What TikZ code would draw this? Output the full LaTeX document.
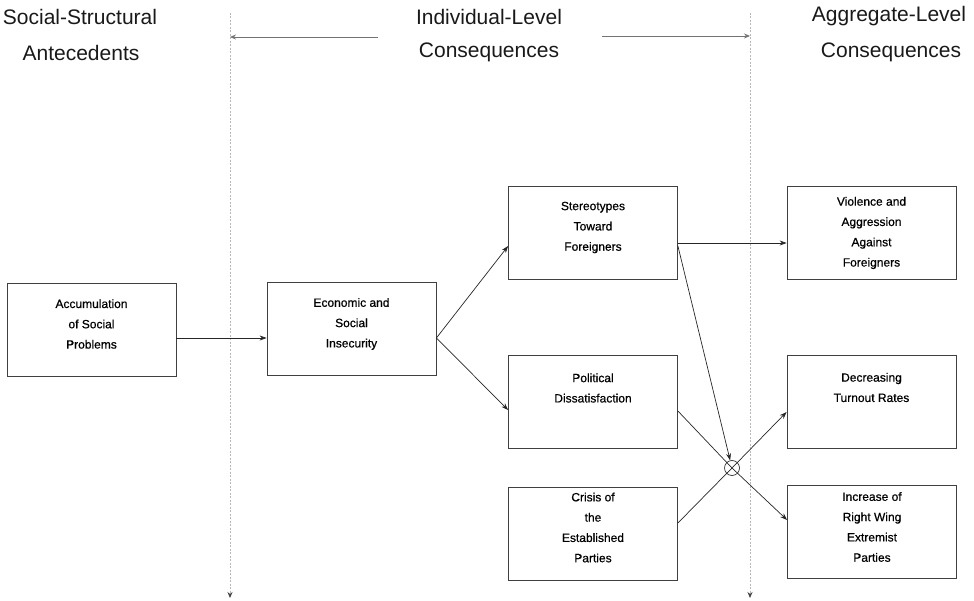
\documentclass[tikz,border=0pt]{standalone}
\usepackage{fontspec}
\setmainfont{Liberation Sans}
\newfontfamily\boxfont[FakeBold=0.6]{Liberation Sans}
\usetikzlibrary{arrows.meta,calc}
\begin{document}
\begin{tikzpicture}[x=1pt,y=-1pt,
  box/.style={draw=black!75, line width=0.8pt, minimum width=169pt, minimum height=93pt, inner sep=0pt},
  btxt/.style={align=center, font=\boxfont\fontsize{12}{20.3}\selectfont, text=black, inner sep=0pt},
  head/.style={font=\fontsize{21}{25}\selectfont, text=black!90, inner sep=0pt},
  arr/.style={draw=black!85, line width=0.7pt, -{Stealth[length=7pt,width=5pt]}},
  guide/.style={draw=black!28, line width=0.7pt, dash pattern=on 2pt off 1.5pt, -{Stealth[length=6pt,width=5pt,color=black!75]}},
  harr/.style={draw=black!55, line width=0.8pt, -{Stealth[length=6pt,width=5pt]}},
  xcirc/.style={circle, draw=black!80, line width=0.7pt, minimum size=15pt, inner sep=0pt}
]
\useasboundingbox (0,0) rectangle (974,601);

% headers
\node[head] (h1a) at (80,17) {Social-Structural};
\node[head] (h1b) at (81,53) {Antecedents};
\node[head] (h2a) at (489,17) {Individual-Level};
\node[head] (h2b) at (489,52) {Consequences};
\node[head] (h3a) at (889,16) {Aggregate-Level};
\node[head] (h3b) at (891,52) {Consequences};

% guide lines
\coordinate (g1t) at (230,13);
\coordinate (g1b) at (230,598);
\coordinate (g2t) at (750,13);
\coordinate (g2b) at (750,598);
\draw[guide] (g1t) -- (g1b);
\draw[guide] (g2t) -- (g2b);

% header arrows
\coordinate (la) at (378,37);
\coordinate (ra) at (602,36);
\draw[harr] (la) -- (g1t |- la);
\draw[harr] (ra) -- (g2t |- ra);

% boxes
\node[box] (acc) at (91.5,330) {};
\node[box] (econ) at (351.5,328.5) {};
\node[box] (ster) at (593,233) {};
\node[box] (pol) at (593,402) {};
\node[box] (cris) at (593,533.5) {};
\node[box] (viol) at (871.5,232.5) {};
\node[box] (decr) at (871.5,402) {};
\node[box] (incr) at (872,532) {};

% box texts
\node[btxt] (accT) at (91.5,324) {Accumulation\\of Social\\Problems};
\node[btxt] (econT) at (351.5,324) {Economic and\\Social\\Insecurity};
\node[btxt] (sterT) at (593,227.5) {Stereotypes\\Toward\\Foreigners};
\node[btxt] (polT) at (593,388) {Political\\Dissatisfaction};
\node[btxt] (crisT) at (593,527.5) {Crisis of\\the\\Established\\Parties};
\node[btxt] (violT) at (871.5,233) {Violence and\\Aggression\\Against\\Foreigners};
\node[btxt] (decrT) at (871.5,387.5) {Decreasing\\Turnout Rates};
\node[btxt] (incrT) at (872,527) {Increase of\\Right Wing\\Extremist\\Parties};

% crossing circle
\node[xcirc] (cx) at (732,468) {};

% connectors
\coordinate (fork) at ([yshift=-9.5pt]econ.east);
\draw[arr] ([yshift=-8pt]acc.east) -- (econ.west |- fork);
\draw[arr] (fork) -- ([yshift=-13pt]ster.west);
\draw[arr] (fork) -- ([yshift=-8pt]pol.west);
\draw[arr] ([yshift=-10pt]ster.east) -- ([yshift=-10.5pt]viol.west);
\draw[arr] ([yshift=-13pt]ster.east) -- (cx);
\draw[arr] ([yshift=-9pt]pol.east) -- (cx.center) -- ([yshift=12pt]incr.west);
\draw[arr] ([yshift=10.5pt]cris.east) -- (cx.center) -- ([yshift=-10pt]decr.west);
\end{tikzpicture}
\end{document}
